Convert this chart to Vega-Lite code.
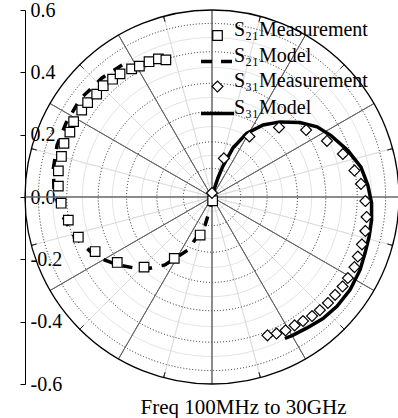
{
  "$schema": "https://vega.github.io/schema/vega-lite/v6.json",
  "width": 374,
  "height": 374,
  "autosize": {"type": "none"},
  "padding": {"left": 25, "top": 10, "right": 0, "bottom": 34},
  "background": "white",
  "config": {"view": {"stroke": null}, "font": "Liberation Serif", "axis": {"labelFont": "Liberation Serif", "titleFont": "Liberation Serif"}, "legend": {"labelFont": "Liberation Serif"}},
  "datasets": {
    "faintCircles": [{"r": 0.046}, {"r": 0.134}, {"r": 0.226}, {"r": 0.32}, {"r": 0.416}, {"r": 0.512}],
    "dottedCircles": [{"r": 0.092}, {"r": 0.177}, {"r": 0.274}, {"r": 0.365}, {"r": 0.466}, {"r": 0.557}],
    "spokes": [{"a": 0}, {"a": 30}, {"a": 60}, {"a": 90}, {"a": 120}, {"a": 150}, {"a": 180}, {"a": 210}, {"a": 240}, {"a": 270}, {"a": 300}, {"a": 330}],
    "minorSpokes": [{"a": 15}, {"a": 45}, {"a": 75}, {"a": 105}, {"a": 135}, {"a": 165}, {"a": 195}, {"a": 225}, {"a": 255}, {"a": 285}, {"a": 315}, {"a": 345}],
    "models": [
      {"s": "S₂₁Model", "i": 1, "x": 0.0, "y": 0.0},
      {"s": "S₂₁Model", "i": 2, "x": -0.001, "y": -0.019},
      {"s": "S₂₁Model", "i": 3, "x": -0.022, "y": -0.09},
      {"s": "S₂₁Model", "i": 4, "x": -0.077, "y": -0.17},
      {"s": "S₂₁Model", "i": 5, "x": -0.151, "y": -0.218},
      {"s": "S₂₁Model", "i": 6, "x": -0.221, "y": -0.233},
      {"s": "S₂₁Model", "i": 7, "x": -0.301, "y": -0.218},
      {"s": "S₂₁Model", "i": 8, "x": -0.37, "y": -0.193},
      {"s": "S₂₁Model", "i": 9, "x": -0.44, "y": -0.129},
      {"s": "S₂₁Model", "i": 10, "x": -0.485, "y": -0.052},
      {"s": "S₂₁Model", "i": 11, "x": -0.507, "y": 0.022},
      {"s": "S₂₁Model", "i": 12, "x": -0.509, "y": 0.092},
      {"s": "S₂₁Model", "i": 13, "x": -0.497, "y": 0.167},
      {"s": "S₂₁Model", "i": 14, "x": -0.468, "y": 0.238},
      {"s": "S₂₁Model", "i": 15, "x": -0.423, "y": 0.314},
      {"s": "S₂₁Model", "i": 16, "x": -0.353, "y": 0.382},
      {"s": "S₂₁Model", "i": 17, "x": -0.263, "y": 0.44},
      {"s": "S₃₁Model", "i": 1, "x": 0.0, "y": 0.0},
      {"s": "S₃₁Model", "i": 2, "x": 0.003, "y": 0.013},
      {"s": "S₃₁Model", "i": 3, "x": 0.019, "y": 0.061},
      {"s": "S₃₁Model", "i": 4, "x": 0.035, "y": 0.099},
      {"s": "S₃₁Model", "i": 5, "x": 0.067, "y": 0.157},
      {"s": "S₃₁Model", "i": 6, "x": 0.111, "y": 0.204},
      {"s": "S₃₁Model", "i": 7, "x": 0.164, "y": 0.231},
      {"s": "S₃₁Model", "i": 8, "x": 0.218, "y": 0.241},
      {"s": "S₃₁Model", "i": 9, "x": 0.282, "y": 0.239},
      {"s": "S₃₁Model", "i": 10, "x": 0.337, "y": 0.225},
      {"s": "S₃₁Model", "i": 11, "x": 0.382, "y": 0.197},
      {"s": "S₃₁Model", "i": 12, "x": 0.436, "y": 0.149},
      {"s": "S₃₁Model", "i": 13, "x": 0.478, "y": 0.096},
      {"s": "S₃₁Model", "i": 14, "x": 0.5, "y": 0.038},
      {"s": "S₃₁Model", "i": 15, "x": 0.512, "y": -0.019},
      {"s": "S₃₁Model", "i": 16, "x": 0.512, "y": -0.074},
      {"s": "S₃₁Model", "i": 17, "x": 0.504, "y": -0.128},
      {"s": "S₃₁Model", "i": 18, "x": 0.491, "y": -0.18},
      {"s": "S₃₁Model", "i": 19, "x": 0.475, "y": -0.234},
      {"s": "S₃₁Model", "i": 20, "x": 0.443, "y": -0.298},
      {"s": "S₃₁Model", "i": 21, "x": 0.401, "y": -0.351},
      {"s": "S₃₁Model", "i": 22, "x": 0.356, "y": -0.39},
      {"s": "S₃₁Model", "i": 23, "x": 0.305, "y": -0.42},
      {"s": "S₃₁Model", "i": 24, "x": 0.26, "y": -0.443},
      {"s": "S₃₁Model", "i": 25, "x": 0.234, "y": -0.454}
    ],
    "measurements": [
      {"s": "S₂₁Measurement", "i": 1, "x": 0.002, "y": -0.012},
      {"s": "S₂₁Measurement", "i": 2, "x": -0.038, "y": -0.122},
      {"s": "S₂₁Measurement", "i": 3, "x": -0.121, "y": -0.197},
      {"s": "S₂₁Measurement", "i": 4, "x": -0.218, "y": -0.225},
      {"s": "S₂₁Measurement", "i": 5, "x": -0.304, "y": -0.21},
      {"s": "S₂₁Measurement", "i": 6, "x": -0.375, "y": -0.175},
      {"s": "S₂₁Measurement", "i": 7, "x": -0.429, "y": -0.129},
      {"s": "S₂₁Measurement", "i": 8, "x": -0.461, "y": -0.074},
      {"s": "S₂₁Measurement", "i": 9, "x": -0.484, "y": -0.02},
      {"s": "S₂₁Measurement", "i": 10, "x": -0.493, "y": 0.035},
      {"s": "S₂₁Measurement", "i": 11, "x": -0.493, "y": 0.084},
      {"s": "S₂₁Measurement", "i": 12, "x": -0.483, "y": 0.13},
      {"s": "S₂₁Measurement", "i": 13, "x": -0.475, "y": 0.172},
      {"s": "S₂₁Measurement", "i": 14, "x": -0.456, "y": 0.208},
      {"s": "S₂₁Measurement", "i": 15, "x": -0.444, "y": 0.242},
      {"s": "S₂₁Measurement", "i": 16, "x": -0.418, "y": 0.279},
      {"s": "S₂₁Measurement", "i": 17, "x": -0.399, "y": 0.303},
      {"s": "S₂₁Measurement", "i": 18, "x": -0.37, "y": 0.33},
      {"s": "S₂₁Measurement", "i": 19, "x": -0.349, "y": 0.357},
      {"s": "S₂₁Measurement", "i": 20, "x": -0.319, "y": 0.378},
      {"s": "S₂₁Measurement", "i": 21, "x": -0.295, "y": 0.395},
      {"s": "S₂₁Measurement", "i": 22, "x": -0.258, "y": 0.411},
      {"s": "S₂₁Measurement", "i": 23, "x": -0.233, "y": 0.42},
      {"s": "S₂₁Measurement", "i": 24, "x": -0.202, "y": 0.434},
      {"s": "S₂₁Measurement", "i": 25, "x": -0.172, "y": 0.443},
      {"s": "S₂₁Measurement", "i": 26, "x": -0.148, "y": 0.44},
      {"s": "S₃₁Measurement", "i": 1, "x": 0.0, "y": 0.013},
      {"s": "S₃₁Measurement", "i": 2, "x": 0.038, "y": 0.124},
      {"s": "S₃₁Measurement", "i": 3, "x": 0.12, "y": 0.194},
      {"s": "S₃₁Measurement", "i": 4, "x": 0.215, "y": 0.223},
      {"s": "S₃₁Measurement", "i": 5, "x": 0.302, "y": 0.215},
      {"s": "S₃₁Measurement", "i": 6, "x": 0.369, "y": 0.18},
      {"s": "S₃₁Measurement", "i": 7, "x": 0.42, "y": 0.138},
      {"s": "S₃₁Measurement", "i": 8, "x": 0.457, "y": 0.085},
      {"s": "S₃₁Measurement", "i": 9, "x": 0.478, "y": 0.042},
      {"s": "S₃₁Measurement", "i": 10, "x": 0.492, "y": -0.013},
      {"s": "S₃₁Measurement", "i": 11, "x": 0.496, "y": -0.064},
      {"s": "S₃₁Measurement", "i": 12, "x": 0.492, "y": -0.109},
      {"s": "S₃₁Measurement", "i": 13, "x": 0.481, "y": -0.152},
      {"s": "S₃₁Measurement", "i": 14, "x": 0.468, "y": -0.191},
      {"s": "S₃₁Measurement", "i": 15, "x": 0.457, "y": -0.225},
      {"s": "S₃₁Measurement", "i": 16, "x": 0.436, "y": -0.26},
      {"s": "S₃₁Measurement", "i": 17, "x": 0.419, "y": -0.287},
      {"s": "S₃₁Measurement", "i": 18, "x": 0.395, "y": -0.314},
      {"s": "S₃₁Measurement", "i": 19, "x": 0.372, "y": -0.34},
      {"s": "S₃₁Measurement", "i": 20, "x": 0.346, "y": -0.363},
      {"s": "S₃₁Measurement", "i": 21, "x": 0.321, "y": -0.382},
      {"s": "S₃₁Measurement", "i": 22, "x": 0.292, "y": -0.398},
      {"s": "S₃₁Measurement", "i": 23, "x": 0.265, "y": -0.412},
      {"s": "S₃₁Measurement", "i": 24, "x": 0.236, "y": -0.428},
      {"s": "S₃₁Measurement", "i": 25, "x": 0.207, "y": -0.438},
      {"s": "S₃₁Measurement", "i": 26, "x": 0.178, "y": -0.444}
    ]
  },
  "layer": [
    {
      "data": {"name": "faintCircles"},
      "mark": {"type": "arc", "filled": false, "color": "#dcdcdc", "strokeWidth": 0.8, "theta": 0, "theta2": 6.2832},
      "encoding": {
        "radius": {"field": "r", "type": "quantitative", "stack": null, "scale": {"type": "linear", "domain": [0, 0.6], "range": [0, 187]}}
      }
    },
    {
      "data": {"name": "minorSpokes"},
      "mark": {"type": "arc", "filled": false, "color": "#dcdcdc", "strokeWidth": 0.8},
      "encoding": {
        "theta": {"field": "a", "type": "quantitative", "stack": null, "scale": {"domain": [0, 360], "range": [0, 6.2832]}},
        "theta2": {"field": "a"},
        "radius": {"datum": 0.6, "stack": null, "scale": {"type": "linear", "domain": [0, 0.6], "range": [0, 187]}}
      }
    },
    {
      "data": {"name": "dottedCircles"},
      "mark": {"type": "arc", "filled": false, "color": "#222222", "strokeWidth": 1, "strokeDash": [1, 2], "theta": 0, "theta2": 6.2832},
      "encoding": {
        "radius": {"field": "r", "type": "quantitative", "stack": null, "scale": {"type": "linear", "domain": [0, 0.6], "range": [0, 187]}}
      }
    },
    {
      "data": {"name": "spokes"},
      "mark": {"type": "arc", "filled": false, "color": "#666666", "strokeWidth": 1},
      "encoding": {
        "theta": {"field": "a", "type": "quantitative", "stack": null, "scale": {"domain": [0, 360], "range": [0, 6.2832]}},
        "theta2": {"field": "a"},
        "radius": {"datum": 0.6, "stack": null, "scale": {"type": "linear", "domain": [0, 0.6], "range": [0, 187]}}
      }
    },
    {
      "data": {"name": "minorSpokes"},
      "mark": {"type": "arc", "filled": false, "color": "#333333", "strokeWidth": 1},
      "encoding": {
        "theta": {"field": "a", "type": "quantitative", "stack": null, "scale": {"domain": [0, 360], "range": [0, 6.2832]}},
        "theta2": {"field": "a"},
        "radius": {"datum": 0.583, "stack": null, "scale": {"type": "linear", "domain": [0, 0.6], "range": [0, 187]}},
        "radius2": {"datum": 0.6}
      }
    },
    {
      "data": {"values": [{"r": 0.6}]},
      "mark": {"type": "arc", "filled": false, "color": "black", "strokeWidth": 1.3, "theta": 0, "theta2": 6.2832},
      "encoding": {
        "radius": {"field": "r", "type": "quantitative", "stack": null, "scale": {"type": "linear", "domain": [0, 0.6], "range": [0, 187]}}
      }
    },
    {
      "data": {"name": "models"},
      "transform": [{"filter": "datum.s == 'S₂₁Model'"}],
      "mark": {"type": "line", "color": "black", "strokeWidth": 3.5, "strokeDash": [10, 10]},
      "encoding": {
        "x": {"field": "x", "type": "quantitative", "scale": {"domain": [-0.6, 0.6], "nice": false, "zero": false}},
        "y": {"field": "y", "type": "quantitative", "scale": {"domain": [-0.6, 0.6], "nice": false, "zero": false}},
        "order": {"field": "i", "type": "quantitative"}
      }
    },
    {
      "data": {"name": "models"},
      "transform": [{"filter": "datum.s == 'S₃₁Model'"}],
      "mark": {"type": "line", "color": "black", "strokeWidth": 3.5},
      "encoding": {
        "x": {"field": "x", "type": "quantitative", "scale": {"domain": [-0.6, 0.6], "nice": false, "zero": false}},
        "y": {"field": "y", "type": "quantitative", "scale": {"domain": [-0.6, 0.6], "nice": false, "zero": false}},
        "order": {"field": "i", "type": "quantitative"}
      }
    },
    {
      "data": {"name": "measurements"},
      "mark": {"type": "point", "filled": true, "fill": "white", "stroke": "black", "opacity": 1},
      "encoding": {
        "x": {
          "field": "x", "type": "quantitative",
          "scale": {"domain": [-0.6, 0.6], "nice": false, "zero": false},
          "axis": {
            "title": "Freq 100MHz to 30GHz", "domain": false, "ticks": false, "labels": false, "grid": false,
            "titleFont": "Liberation Serif", "titleFontSize": 21, "titleFontWeight": "normal", "titleColor": "black",
            "titleX": 218, "titleY": 29, "titleBaseline": "alphabetic", "titleAnchor": "middle"
          }
        },
        "y": {
          "field": "y", "type": "quantitative",
          "scale": {"domain": [-0.6, 0.6], "nice": false, "zero": false},
          "axis": {
            "title": null, "grid": false, "domainColor": "black", "domainWidth": 1, "tickColor": "black", "tickSize": 5, "tickWidth": 1,
            "values": [-0.6, -0.5, -0.4, -0.3, -0.2, -0.1, 0, 0.1, 0.2, 0.3, 0.4, 0.5, 0.6],
            "labelExpr": "abs(round(datum.value * 10)) % 2 == 0 ? replace(format(datum.value, '.1f'), '\u2212', '-') : ''",
            "labelAlign": "left", "labelPadding": -10, "labelFont": "Liberation Serif", "labelFontSize": 20, "labelColor": "black",
            "labelBaseline": "middle", "labelFlush": false, "labelOverlap": false
          }
        },
        "shape": {
          "field": "s", "type": "nominal",
          "scale": {
            "domain": ["S₂₁Measurement", "S₂₁Model", "S₃₁Measurement", "S₃₁Model"],
            "range": ["M-0.29,-0.29H0.29V0.29H-0.29Z", "M-1,0L1,0", "M-0.33,0L0,-0.33L0.33,0L0,0.33Z", "M-1,0L1,0"]
          },
          "legend": {
            "orient": "none", "legendX": 174, "legendY": 8, "title": null, "padding": 0,
            "labelFont": "Liberation Serif", "labelFontSize": 20, "labelColor": "black", "labelLimit": 0, "labelOffset": -2,
            "labelBaseline": "alphabetic",
            "symbolStrokeColor": "black", "symbolFillColor": "white", "symbolOpacity": 1, "rowPadding": -16.5
          }
        },
        "size": {
          "field": "s", "type": "nominal",
          "scale": {"type": "ordinal", "domain": ["S₂₁Measurement", "S₂₁Model", "S₃₁Measurement", "S₃₁Model"], "range": [1089, 1089, 1089, 1089]}
        },
        "strokeWidth": {
          "field": "s", "type": "nominal",
          "scale": {"type": "ordinal", "domain": ["S₂₁Measurement", "S₂₁Model", "S₃₁Measurement", "S₃₁Model"], "range": [1.2, 3.5, 1.2, 3.5]}
        },
        "strokeDash": {
          "field": "s", "type": "nominal",
          "scale": {"domain": ["S₂₁Measurement", "S₂₁Model", "S₃₁Measurement", "S₃₁Model"], "range": [[1, 0], [11, 9], [1, 0], [1, 0]]}
        }
      }
    }
  ]
}
